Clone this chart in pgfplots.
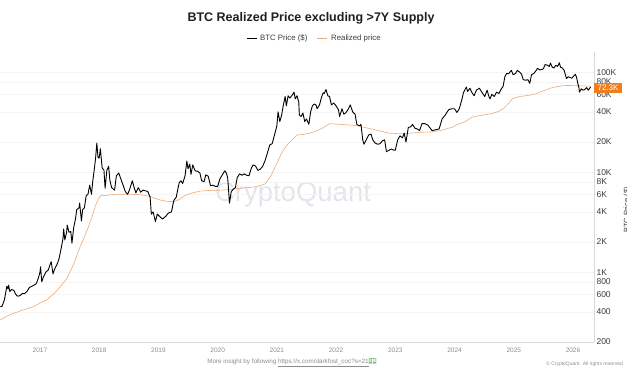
\documentclass[border=0pt]{standalone}
\usepackage{pgfplots}
\pgfplotsset{compat=1.18}
\usepackage{fontspec}
\setmainfont{Liberation Sans}
\newfontfamily\emojifont{Noto Emoji}
\definecolor{btcorange}{RGB}{240,125,30}
\definecolor{realcol}{RGB}{238,170,118}
\definecolor{wmark}{RGB}{226,229,236}
\definecolor{ticktxt}{RGB}{60,60,60}
\definecolor{yeartxt}{RGB}{140,140,140}
\begin{document}
\begin{tikzpicture}[x=1pt,y=1pt]
\useasboundingbox (0,0) rectangle (627,376);
% watermark
\node[text=wmark, font=\fontsize{27.5}{30}\selectfont] at (293,181) {CryptoQuant};
\begin{axis}[
  at={(0pt,34pt)}, anchor=south west,
  scale only axis, width=594pt, height=290pt,
  xmin=2016.325, xmax=2026.355,
  ymode=log, ymin=200, ymax=158865,
  axis x line*=bottom, axis y line*=right,
  axis line style={draw=black!15, line width=0.6pt, -},
  major tick length=0pt,
  ymajorgrids, grid style={black!4, line width=0.4pt},
  xtick={2017,2018,2019,2020,2021,2022,2023,2024,2025,2026},
  xticklabels={2017,2018,2019,2020,2021,2022,2023,2024,2025,2026},
  xticklabel style={font=\fontsize{6.5}{8}\selectfont, text=yeartxt, yshift=-2pt},
  ytick={200,400,600,800,1000,2000,4000,6000,8000,10000,20000,40000,60000,80000,100000},
  yticklabels={200,400,600,800,1K,2K,4K,6K,8K,10K,20K,40K,60K,80K,100K},
  yticklabel style={font=\fontsize{8.5}{10}\selectfont, text=ticktxt, anchor=west, xshift=-1pt},
  clip=true,
]
\addplot[realcol, line width=0.6pt] coordinates {
(2016.33,332) (2016.45,365) (2016.55,386) (2016.70,415) (2016.89,451) (2017.00,490)
(2017.11,525) (2017.25,620) (2017.34,710) (2017.45,860) (2017.51,1010) (2017.58,1250)
(2017.68,1800) (2017.75,2250) (2017.82,2850) (2017.88,3600) (2017.93,4500) (2017.99,5470)
(2018.04,5900) (2018.10,5800) (2018.20,5950) (2018.30,6000) (2018.50,6000) (2018.70,5950)
(2018.86,5700) (2018.95,5450) (2019.03,5260) (2019.15,5100) (2019.25,5060) (2019.35,5300)
(2019.42,5700) (2019.53,6100) (2019.70,6450) (2019.85,6550) (2020.08,6600) (2020.30,6800)
(2020.50,7000) (2020.66,7150) (2020.80,7600) (2020.90,9200) (2021.00,12200) (2021.08,15500)
(2021.17,18600) (2021.34,23500) (2021.45,23800) (2021.55,24500) (2021.65,25500) (2021.77,27500)
(2021.89,30500) (2022.00,30200) (2022.15,29800) (2022.34,29200) (2022.50,27800) (2022.68,26300)
(2022.90,24500) (2023.08,24200) (2023.25,24500) (2023.42,25000) (2023.60,25200) (2023.76,26000)
(2023.90,27500) (2023.96,28000) (2024.05,30000) (2024.16,31600) (2024.30,35500) (2024.45,37000)
(2024.63,38500) (2024.75,40500) (2024.83,43500) (2024.92,49000) (2024.97,54000) (2025.10,57000)
(2025.25,58500) (2025.38,60700) (2025.50,65000) (2025.65,70000) (2025.78,72500) (2025.90,73500)
(2026.05,73200) (2026.20,72600) (2026.30,72300)
};
\addplot[black, line width=0.9pt, line join=round] coordinates {
(2016.33,450) (2016.36,455) (2016.40,530) (2016.44,720) (2016.46,680) (2016.47,740)
(2016.49,640) (2016.52,670) (2016.56,655) (2016.59,600) (2016.62,575) (2016.66,580)
(2016.70,610) (2016.74,610) (2016.78,640) (2016.82,700) (2016.86,720) (2016.90,740)
(2016.94,770) (2016.98,900) (2017.00,1000) (2017.01,1130) (2017.03,800) (2017.06,900)
(2017.10,1000) (2017.14,1050) (2017.17,1190) (2017.19,1270) (2017.22,960) (2017.25,1080)
(2017.29,1200) (2017.32,1350) (2017.36,1750) (2017.39,2200) (2017.40,2700) (2017.42,2100)
(2017.45,2500) (2017.46,2950) (2017.49,2500) (2017.52,2550) (2017.54,1950) (2017.57,2800)
(2017.60,3400) (2017.62,4200) (2017.66,4400) (2017.67,4900) (2017.70,3250) (2017.72,4200)
(2017.75,4400) (2017.78,5800) (2017.81,6000) (2017.84,7400) (2017.87,6000) (2017.89,8000)
(2017.92,11000) (2017.94,14000) (2017.96,19500) (2017.98,14000) (2018.00,13800) (2018.02,17100)
(2018.05,11000) (2018.08,10500) (2018.10,6900) (2018.13,10500) (2018.16,11400) (2018.18,8300)
(2018.21,7000) (2018.26,6600) (2018.29,9200) (2018.33,9800) (2018.37,8400) (2018.40,7500)
(2018.44,6400) (2018.48,6000) (2018.51,6600) (2018.56,8200) (2018.59,7000) (2018.62,6200)
(2018.66,7000) (2018.70,6300) (2018.74,6600) (2018.78,6500) (2018.82,6400) (2018.86,5600)
(2018.88,3800) (2018.91,4000) (2018.95,3200) (2018.98,3800) (2019.02,3600) (2019.07,3400)
(2019.12,3600) (2019.17,3900) (2019.22,4000) (2019.26,5200) (2019.30,5600) (2019.35,7800)
(2019.38,8200) (2019.41,7700) (2019.45,9200) (2019.48,12900) (2019.50,10800) (2019.53,12000)
(2019.55,9500) (2019.58,11800) (2019.62,10300) (2019.66,10200) (2019.70,9800) (2019.73,8200)
(2019.77,8000) (2019.80,9400) (2019.84,9100) (2019.88,7300) (2019.92,7400) (2019.96,7200)
(2020.00,7200) (2020.04,8600) (2020.08,9400) (2020.12,10300) (2020.15,9700) (2020.17,8700)
(2020.20,4900) (2020.23,6400) (2020.27,6800) (2020.30,7000) (2020.33,8800) (2020.37,9600)
(2020.41,9300) (2020.45,9600) (2020.49,9300) (2020.53,9200) (2020.57,11000) (2020.60,11800)
(2020.64,11500) (2020.68,10400) (2020.72,10700) (2020.76,11400) (2020.80,13000) (2020.84,15500)
(2020.88,18700) (2020.92,19200) (2020.96,23500) (2021.00,29000) (2021.02,40000) (2021.05,32000)
(2021.08,37000) (2021.11,47000) (2021.14,57000) (2021.16,46000) (2021.19,58000) (2021.22,55000)
(2021.26,59000) (2021.29,63000) (2021.31,54000) (2021.34,58000) (2021.37,50000) (2021.38,37000)
(2021.41,36000) (2021.44,39000) (2021.47,32000) (2021.50,34000) (2021.54,30000) (2021.57,40000)
(2021.60,46000) (2021.63,48000) (2021.66,47000) (2021.68,43000) (2021.72,47000) (2021.75,55000)
(2021.78,62000) (2021.80,61000) (2021.83,67000) (2021.86,58000) (2021.89,57000) (2021.92,47000)
(2021.96,49000) (2022.00,46000) (2022.04,42000) (2022.06,36000) (2022.10,43000) (2022.13,38000)
(2022.16,39000) (2022.20,42000) (2022.24,47000) (2022.28,40000) (2022.32,38000) (2022.35,30000)
(2022.39,29000) (2022.42,30000) (2022.45,21000) (2022.47,19000) (2022.51,21000) (2022.55,23500)
(2022.59,24000) (2022.62,21000) (2022.66,19500) (2022.70,19000) (2022.74,19200) (2022.78,20500)
(2022.82,21000) (2022.85,16000) (2022.89,16500) (2022.93,17000) (2022.97,16600) (2023.00,16600)
(2023.04,21000) (2023.08,23000) (2023.12,22000) (2023.15,24500) (2023.18,20000) (2023.22,28000)
(2023.26,28300) (2023.29,30000) (2023.33,27500) (2023.37,27000) (2023.41,26000) (2023.45,30500)
(2023.50,30500) (2023.55,29500) (2023.62,26000) (2023.68,26500) (2023.74,27000) (2023.79,34000)
(2023.84,37000) (2023.90,42000) (2023.95,43000) (2024.00,43000) (2024.04,39500) (2024.08,43000)
(2024.12,52000) (2024.15,62000) (2024.20,71000) (2024.22,64000) (2024.26,69000) (2024.29,63000)
(2024.33,58000) (2024.37,66000) (2024.42,69000) (2024.46,63000) (2024.51,57000) (2024.55,66000)
(2024.58,57000) (2024.60,54000) (2024.63,60000) (2024.67,57000) (2024.71,63000) (2024.75,61000)
(2024.79,68000) (2024.82,72000) (2024.85,90000) (2024.88,97000) (2024.91,96000) (2024.96,104000)
(2024.99,94000) (2025.03,97000) (2025.06,104000) (2025.09,101000) (2025.13,96000) (2025.16,84000)
(2025.20,83000) (2025.24,84000) (2025.27,77000) (2025.30,94000) (2025.34,97000) (2025.38,104000)
(2025.40,109000) (2025.44,105000) (2025.47,106000) (2025.50,108000) (2025.53,119000) (2025.57,117000)
(2025.60,114000) (2025.62,123000) (2025.65,112000) (2025.68,110000) (2025.71,117000) (2025.74,114000)
(2025.77,124000) (2025.79,112000) (2025.82,110000) (2025.85,104000) (2025.87,95000) (2025.89,86000)
(2025.92,90000) (2025.95,88000) (2025.98,87000) (2026.01,91000) (2026.04,95000) (2026.06,89000)
(2026.08,78000) (2026.10,70000) (2026.11,63000) (2026.14,68000) (2026.17,66000) (2026.20,67000)
(2026.23,70000) (2026.26,66000) (2026.29,70000) (2026.30,71000)
};
\end{axis}
% value tag
\fill[btcorange] (594,283.3) rectangle (622,293.3);
\node[text=white, font=\fontsize{8}{9}\selectfont, anchor=center] at (608,288.3) {72.3K};
% right axis title (cut by the page edge)
\node[rotate=90, anchor=base, text=ticktxt, font=\fontsize{7.5}{9}\selectfont] at (629,166) {BTC Price (\$)};
% title
\node[font=\bfseries\fontsize{12.5}{14}\selectfont, text=black!88] at (311,358) {BTC Realized Price excluding >7Y Supply};
% legend
\draw[black, line width=0.8pt] (247,338) -- (257,338);
\node[anchor=west, font=\fontsize{7.8}{9}\selectfont, text=ticktxt, inner sep=0pt] at (260,338) {BTC Price (\$)};
\draw[realcol, line width=0.8pt] (317,338) -- (327,338);
\node[anchor=west, font=\fontsize{7.8}{9}\selectfont, text=ticktxt, inner sep=0pt] at (331,338) {Realized price};
% footer
\node[font=\fontsize{6.3}{7}\selectfont, text=yeartxt] at (292,13) {More insight by following \underline{https://x.com/darkfost\_coc?s=21}{\emojifont\textcolor{green!55!black}{💵}}};
\node[anchor=west, font=\fontsize{5}{6}\selectfont, text=yeartxt, inner sep=0pt] at (546,12) {\textcopyright{} CryptoQuant. All rights reserved};
\end{tikzpicture}
\end{document}
